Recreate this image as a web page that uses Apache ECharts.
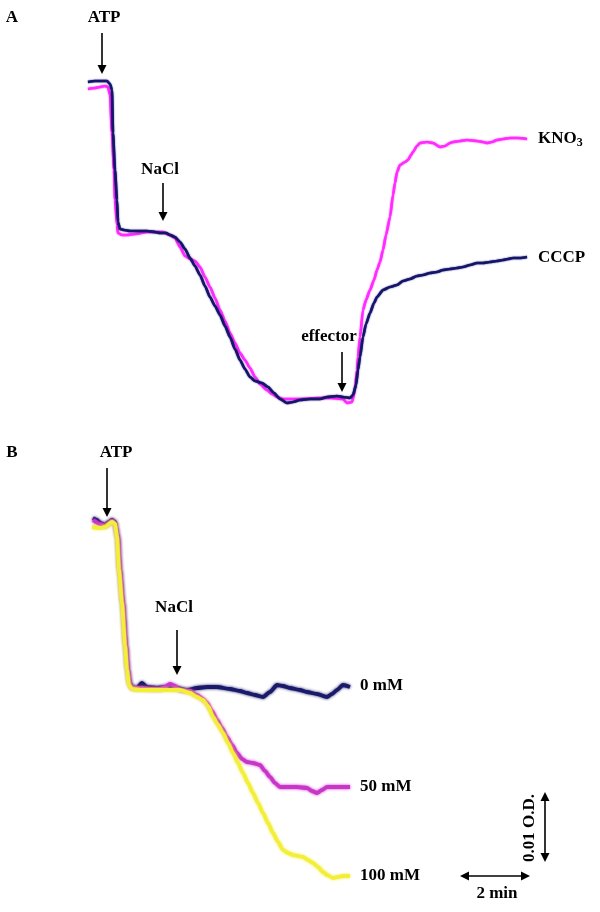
<!DOCTYPE html>
<html><head><meta charset="utf-8">
<script src="https://cdn.jsdelivr.net/npm/echarts@6/dist/echarts.min.js"></script>
<style>html,body{margin:0;background:#fff}#c{width:600px;height:912px}</style></head>
<body><div id="c"></div><script>
// Panel A: time (recorder units) vs relative absorbance signal
const cccpA = [[0,328],[7,329],[12,329],[19,329],[22,326],[24,320],[25,277],[27,240],[29,210],[30,188],[32,181],[36,180],[42,179],[52,179],[59,179],[67,178],[72,177],[78,177],[82,175],[87,173],[92,168],[97,161],[102,152],[107,144],[112,135],[117,124],[122,113],[127,104],[132,95],[137,84],[142,73],[147,61],[152,50],[157,41],[162,33],[167,29],[174,27],[180,23],[186,17],[192,11],[199,7],[205,8],[212,10],[222,11],[232,11],[239,13],[249,14],[255,13],[262,12],[265,15],[268,25],[270,40],[272,53],[275,73],[278,86],[282,97],[286,107],[289,113],[295,120],[302,123],[309,125],[315,129],[322,131],[329,134],[335,135],[342,137],[349,138],[355,140],[362,141],[369,142],[375,143],[382,145],[389,147],[395,147],[402,148],[409,149],[415,150],[420,151],[425,152],[432,152],[439,153]];
const kno3A = [[0,321],[7,322],[12,323],[17,324],[20,323],[22,315],[24,277],[26,240],[27,210],[29,185],[30,177],[34,175],[39,175],[47,176],[59,178],[67,178],[75,178],[82,175],[87,172],[92,163],[97,154],[102,151],[107,149],[112,143],[117,133],[122,123],[127,112],[132,100],[137,89],[142,77],[147,67],[152,57],[157,50],[162,42],[167,33],[172,26],[179,20],[184,16],[189,13],[195,11],[202,11],[212,11],[229,12],[242,12],[255,11],[259,7],[264,8],[267,20],[269,40],[270,53],[272,73],[275,100],[278,110],[282,120],[286,130],[289,140],[292,148],[295,160],[298,175],[302,193],[305,215],[307,227],[309,238],[312,245],[317,248],[320,250],[323,255],[325,258],[329,264],[332,267],[339,268],[345,267],[352,263],[357,264],[362,267],[365,268],[372,269],[379,270],[389,269],[395,268],[399,267],[404,268],[409,270],[415,271],[422,272],[430,272],[439,271]];
// Panel B: NaCl concentrations
const nacl0 = [[5,372],[9,370],[12,367],[17,365],[21,368],[24,370],[27,368],[30,353],[32,320],[35,287],[38,245],[40,220],[42,207],[44,203],[49,202],[54,207],[59,203],[69,202],[79,203],[89,202],[99,200],[109,202],[119,203],[129,203],[142,201],[152,199],[159,197],[167,195],[175,193],[182,198],[189,205],[195,204],[202,202],[212,200],[219,198],[229,196],[239,193],[244,196],[249,200],[255,205],[262,203]];
const nacl50 = [[5,370],[12,366],[17,364],[24,369],[27,367],[30,353],[32,320],[35,287],[38,245],[40,220],[42,206],[44,202],[52,202],[62,201],[72,201],[77,203],[82,206],[87,204],[92,200],[102,199],[109,195],[115,191],[119,187],[124,179],[129,170],[134,162],[139,153],[144,145],[149,137],[154,131],[159,128],[165,127],[172,125],[177,119],[182,113],[187,107],[192,103],[202,103],[209,103],[219,102],[224,99],[229,97],[234,100],[239,103],[247,103],[255,103],[262,103]];
const nacl100 = [[4,363],[12,362],[17,363],[24,368],[27,366],[29,353],[31,320],[34,287],[37,245],[39,220],[41,205],[44,201],[52,200],[62,200],[77,200],[92,200],[102,197],[109,193],[115,190],[120,184],[125,173],[130,165],[135,157],[140,147],[145,137],[150,127],[155,117],[160,107],[165,97],[170,87],[175,77],[180,67],[185,57],[190,48],[195,40],[200,37],[205,35],[210,34],[215,33],[220,30],[225,27],[230,23],[235,18],[239,15],[245,12],[250,13],[255,14],[262,14]];

const chart = echarts.init(document.getElementById('c'), null, {renderer:'canvas'});
const F = '"Liberation Serif","Times New Roman",serif';
const FS = 17;

function txt(x, y, s, align, extra) {
  return Object.assign({type:'text', x:x, y:y, style:{text:s, fill:'#000', font:'bold '+FS+'px '+F, textAlign:align||'center', textVerticalAlign:'middle'}}, extra||{});
}
function head(tx, ty, dx, dy) {
  const L = 9, W = 4.5;
  const bx = tx - dx*L, by = ty - dy*L;
  return {type:'polygon', shape:{points:[[tx,ty],[bx - dy*W, by + dx*W],[bx + dy*W, by - dx*W]]}, style:{fill:'#000'}};
}
function arrowDown(x, y1, y2) {
  return [{type:'line', shape:{x1:x, y1:y1, x2:x, y2:y2-6}, style:{stroke:'#000', lineWidth:1.6}}, head(x, y2, 0, 1)];
}
function dblH(x1, x2, y) {
  return [{type:'line', shape:{x1:x1+6, y1:y, x2:x2-6, y2:y}, style:{stroke:'#000', lineWidth:1.6}}, head(x1, y, -1, 0), head(x2, y, 1, 0)];
}
function dblV(x, y1, y2) {
  return [{type:'line', shape:{x1:x, y1:y1+6, x2:x, y2:y2-6}, style:{stroke:'#000', lineWidth:1.6}}, head(x, y1, 0, -1), head(x, y2, 0, 1)];
}

const graphics = [].concat(
  [txt(12, 18, 'A')],
  [txt(104, 18, 'ATP')], arrowDown(102, 33, 74),
  [txt(160, 170, 'NaCl')], arrowDown(163, 183, 221),
  [txt(329, 337, 'effector')], arrowDown(342, 352, 392),
  [{type:'text', x:538, y:139, style:{text:'{a|KNO}{s|3}', fill:'#000', font:'bold '+FS+'px '+F, textVerticalAlign:'middle',
     rich:{a:{font:'bold '+FS+'px '+F, fill:'#000'}, s:{font:'bold 12px '+F, fill:'#000', padding:[8,0,0,0]}}}}],
  [txt(538, 258, 'CCCP', 'left')],
  [txt(12, 453, 'B')],
  [txt(116, 453, 'ATP')], arrowDown(107, 468, 517),
  [txt(174, 608, 'NaCl')], arrowDown(177, 630, 675),
  [txt(360, 686, '0 mM', 'left')],
  [txt(360, 787, '50 mM', 'left')],
  [txt(360, 876, '100 mM', 'left')],
  dblH(460, 530, 876),
  [txt(497, 894, '2 min')],
  dblV(545, 792, 862),
  [txt(530, 828, '0.01 O.D.', 'center', {rotation: Math.PI/2})]
);

function ln(data, color, w, gi, blur) {
  return {type:'line', data:data, xAxisIndex:gi, yAxisIndex:gi, showSymbol:false, smooth:0.2, smoothMonotone:'x', silent:true,
    lineStyle:{color:color, width:w, shadowBlur:blur||0, shadowColor:color}, animation:false};
}
const hiddenX = (i)=>({type:'value', gridIndex:i, min:0, max:440, show:false});
const hiddenY = (i, max)=>({type:'value', gridIndex:i, min:0, max:max, show:false});

chart.setOption({
  backgroundColor:'#fff',
  animation:false,
  grid:[{left:88, top:70, width:440, height:340}, {left:88, top:500, width:440, height:390}],
  xAxis:[hiddenX(0), hiddenX(1)],
  yAxis:[hiddenY(0,340), hiddenY(1,390)],
  series:[
    ln(kno3A, '#ff2bff', 2.6, 0, 1.5),
    ln(cccpA, '#15156b', 2.6, 0, 1.5),
    ln(nacl0, '#1a1a6a', 3.8, 1, 3),
    ln(nacl50, '#c836c8', 3.8, 1, 3),
    ln(nacl100, '#f2ee3a', 3.8, 1, 3)
  ],
  graphic:graphics
});
</script></body></html>
